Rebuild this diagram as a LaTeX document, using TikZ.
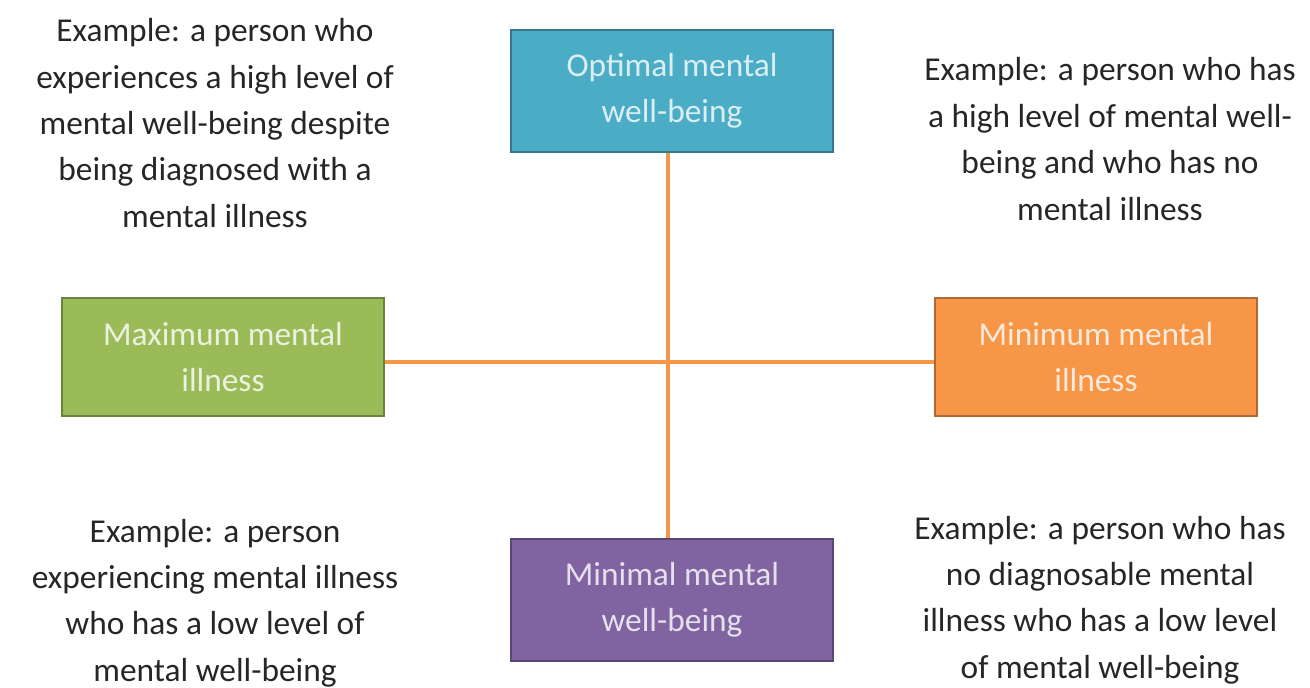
\documentclass[tikz,border=0pt]{standalone}
\usepackage{fontspec}
\setmainfont{Carlito}

\definecolor{wellblue}{HTML}{4BACC6}
\definecolor{illgreen}{HTML}{9BBB59}
\definecolor{illorange}{HTML}{F79646}
\definecolor{wellpurple}{HTML}{8064A2}
\definecolor{txtgrey}{HTML}{262626}

\begin{document}
\begin{tikzpicture}[x=0.02cm,y=-0.02cm,
  font=\fontsize{19}{26.4}\selectfont,
  axisbox/.style={draw=#1!70!black, line width=1.6pt, fill=#1, minimum width=6.44cm,
    minimum height=2.44cm, align=center, text=white!80!#1},
  example/.style={align=center, text=txtgrey},
  axis/.style={draw=illorange, line width=2.2pt}]

\useasboundingbox (0,0) rectangle (1310,688);

% the four ends of the two axes
\node[axisbox=wellblue] (optimal) at (672,91) {Optimal mental\\well-being};
\node[axisbox=illgreen, minimum height=2.36cm] (maxill) at (223,357) {Maximum mental\\illness};
\node[axisbox=illorange, minimum height=2.36cm] (minill) at (1096,357) {Minimum mental\\illness};
\node[axisbox=wellpurple] (minimal) at (672,600) {Minimal mental\\well-being};

% axes
\draw[axis] (optimal.south -| 668,0) -- (minimal.north -| 668,0);
\draw[axis] (maxill.east |- 0,362) -- (minill.west |- 0,362);

% one example per quadrant
\node[example] (ex1) at (215,123) {Example: a person who\\experiences a high level of\\mental well-being despite\\being diagnosed with a\\mental illness};
\node[example] (ex2) at (1110,139) {Example: a person who has\\a high level of mental well-\\being and who has no\\mental illness};
\node[example] (ex3) at (215,603) {Example: a person\\experiencing mental illness\\who has a low level of\\mental well-being};
\node[example] (ex4) at (1100,600) {Example: a person who has\\no diagnosable mental\\illness who has a low level\\of mental well-being};

\end{tikzpicture}
\end{document}
